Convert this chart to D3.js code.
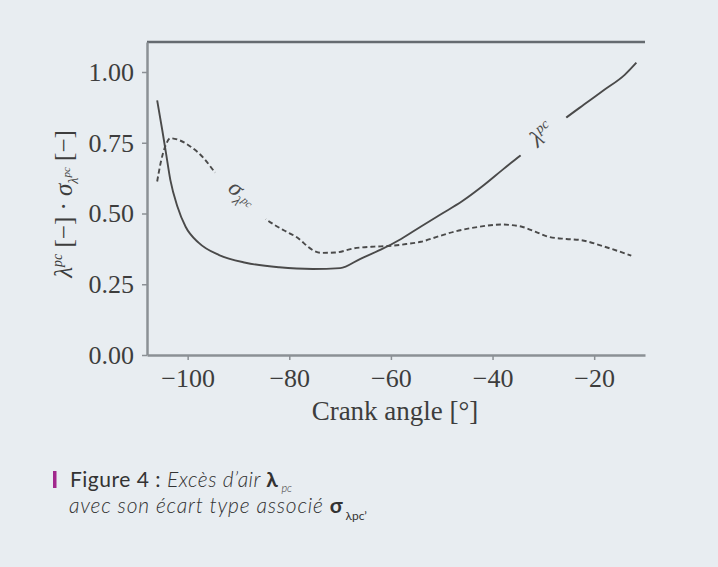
<!DOCTYPE html>
<html>
<head>
<meta charset="utf-8">
<script src="https://cdn.jsdelivr.net/npm/d3@7"></script>
<style>
  html, body { margin: 0; padding: 0; background: #e8edf1; }
  svg { display: block; }
</style>
</head>
<body>
<svg id="chart" width="718" height="567"></svg>
<script>
// Crank angle samples [°] and the two measured curves
const lambdaAngle = [-106, -105, -104.3, -103.4, -102, -100.4, -97.8, -93.8, -88.6, -82, -75.4, -70,
  -66, -62, -58, -54, -50, -46, -42, -38, -34, -30, -26, -22, -18, -14, -11.7];
const lambdaValue = [0.90, 0.795, 0.718, 0.618, 0.524, 0.453, 0.396, 0.353, 0.326, 0.31, 0.304, 0.307,
  0.34, 0.372, 0.41, 0.455, 0.499, 0.543, 0.596, 0.655, 0.713, 0.775, 0.832, 0.885, 0.937, 0.99, 1.033];

const sigmaAngle = [-106, -105.3, -104.3, -103.4, -101.5, -99.4, -96.8, -94.6, -90, -84.6, -81, -78.7,
  -75.1, -73.8, -71, -67.2, -63.3, -60.6, -57, -54.1, -50.5, -47.5, -43, -38.3, -34.4, -31.5, -29.1,
  -25.5, -22.6, -18, -12.7];
const sigmaValue = [0.613, 0.68, 0.742, 0.766, 0.758, 0.736, 0.695, 0.645, 0.57, 0.48, 0.44, 0.418,
  0.368, 0.361, 0.362, 0.377, 0.383, 0.385, 0.392, 0.40, 0.42, 0.436, 0.452, 0.461, 0.454, 0.435, 0.418,
  0.41, 0.406, 0.383, 0.351];

const xTickValues = [-100, -80, -60, -40, -20];
const yTickValues = [0, 0.25, 0.5, 0.75, 1.0];

const svg = d3.select("#chart");
const serif = "'Liberation Serif', 'Times New Roman', serif";
const sans = "Lato, 'Open Sans', sans-serif";
const ink = "#4a4a4a";

const x = d3.scaleLinear().domain([-108, -10]).range([147, 645]);
const y = d3.scaleLinear().domain([0, 1.106]).range([355, 42]);

const lambda = lambdaAngle.map((a, i) => ({ a, v: lambdaValue[i] }));
const sigma = sigmaAngle.map((a, i) => ({ a, v: sigmaValue[i] }));

// linear lookup along a series, used to seat the inline curve labels
function valueAt(series, a) {
  for (let i = 1; i < series.length; i++) {
    if (a <= series[i].a) {
      const p = series[i - 1], q = series[i];
      const t = (a - p.a) / (q.a - p.a);
      return p.v + t * (q.v - p.v);
    }
  }
  return series[series.length - 1].v;
}

// label geometry: gap between two angles on a curve
function gapOn(series, a0, a1) {
  const x0 = x(a0), y0 = y(valueAt(series, a0));
  const x1 = x(a1), y1 = y(valueAt(series, a1));
  return {
    cx: (x0 + x1) / 2, cy: (y0 + y1) / 2,
    len: Math.hypot(x1 - x0, y1 - y0),
    angle: Math.atan2(y1 - y0, x1 - x0) * 180 / Math.PI
  };
}
const sigmaGap = gapOn(sigma, -94.6, -84.6);
const lambdaGap = gapOn(lambda, -34.5, -25.5);

// masks that open the curves where their labels sit
const defs = svg.append("defs");
function makeMask(id, gap) {
  const m = defs.append("mask").attr("id", id).attr("maskUnits", "userSpaceOnUse")
    .attr("x", 0).attr("y", 0).attr("width", 718).attr("height", 567);
  m.append("rect").attr("width", 718).attr("height", 567).attr("fill", "white");
  m.append("rect")
    .attr("x", -gap.len / 2).attr("y", -14).attr("width", gap.len).attr("height", 28)
    .attr("fill", "black")
    .attr("transform", `translate(${gap.cx},${gap.cy}) rotate(${gap.angle})`);
}
makeMask("sigmaGap", sigmaGap);
makeMask("lambdaGap", lambdaGap);

// frame: top rule
svg.append("line")
  .attr("x1", x(-108)).attr("x2", x(-10))
  .attr("y1", y(1.106)).attr("y2", y(1.106))
  .attr("stroke", "#656b70").attr("stroke-width", 2.5);

// axes
const yAxis = d3.axisLeft(y).tickValues(yTickValues).tickFormat(d3.format(".2f"))
  .tickSize(5).tickSizeOuter(0).tickPadding(8);
const xAxis = d3.axisBottom(x).tickValues(xTickValues).tickFormat(d3.format("d"))
  .tickSize(5).tickSizeOuter(0).tickPadding(9);

const gy = svg.append("g").attr("transform", `translate(${x(-108)},0)`).call(yAxis);
const gx = svg.append("g").attr("transform", `translate(0,${y(0)})`).call(xAxis);

[gx, gy].forEach(g => {
  g.select(".domain").attr("stroke", "#8b9095").attr("stroke-width", 2.5);
  g.selectAll(".tick line").attr("stroke", "#8b9095").attr("stroke-width", 1.5);
  g.selectAll(".tick text").attr("fill", "#3d3d3d")
    .style("font-family", serif).style("font-size", "26px");
});

// curves
const line = d3.line().x(d => x(d.a)).y(d => y(d.v)).curve(d3.curveMonotoneX);

svg.append("path").datum(lambda)
  .attr("d", line).attr("fill", "none")
  .attr("stroke", ink).attr("stroke-width", 1.9)
  .attr("mask", "url(#lambdaGap)");

svg.append("path").datum(sigma)
  .attr("d", line).attr("fill", "none")
  .attr("stroke", ink).attr("stroke-width", 1.9)
  .attr("stroke-dasharray", "5,3")
  .attr("mask", "url(#sigmaGap)");

// inline curve labels
const sl = svg.append("text")
  .attr("transform", `translate(${sigmaGap.cx},${sigmaGap.cy}) rotate(${sigmaGap.angle})`)
  .attr("text-anchor", "middle").attr("fill", ink)
  .style("font-family", serif).attr("dy", "0.3em");
sl.append("tspan").style("font-size", "24px").attr("font-style", "italic").text("σ");
sl.append("tspan").style("font-size", "14px").attr("font-style", "italic").attr("dy", 6).text("λ");
sl.append("tspan").style("font-size", "11px").attr("font-style", "italic").attr("dy", -7).text("pc");

const ll = svg.append("text")
  .attr("transform", `translate(${lambdaGap.cx},${lambdaGap.cy}) rotate(${lambdaGap.angle})`)
  .attr("text-anchor", "middle").attr("fill", ink)
  .style("font-family", serif).attr("dy", "0.35em");
ll.append("tspan").style("font-size", "24px").attr("font-style", "italic").text("λ");
ll.append("tspan").style("font-size", "14px").attr("font-style", "italic").attr("dy", -10).text("pc");

// axis titles
const yt = svg.append("text")
  .attr("transform", "translate(72,204) rotate(-90)")
  .attr("text-anchor", "middle").attr("fill", "#3d3d3d")
  .style("font-family", serif).style("font-size", "25px");
yt.append("tspan").attr("font-style", "italic").text("λ");
yt.append("tspan").style("font-size", "14px").attr("font-style", "italic").attr("dy", -10).text("pc");
yt.append("tspan").attr("dy", 10).text(" [−] · ");
yt.append("tspan").attr("font-style", "italic").text("σ");
yt.append("tspan").style("font-size", "14px").attr("font-style", "italic").attr("dy", 6).text("λ");
yt.append("tspan").style("font-size", "11px").attr("font-style", "italic").attr("dy", -8).text("pc");
yt.append("tspan").attr("dy", 2).text(" [−]");

svg.append("text")
  .attr("x", 395).attr("y", 420)
  .attr("text-anchor", "middle").attr("fill", "#3d3d3d")
  .style("font-family", serif).style("font-size", "27px")
  .text("Crank angle [°]");

// caption
svg.append("rect").attr("x", 53).attr("y", 471).attr("width", 3.5).attr("height", 17)
  .attr("fill", "#a1288d");

const c1 = svg.append("text").attr("x", 70).attr("y", 487).attr("fill", "#333")
  .style("font-family", sans).style("font-size", "21px").style("letter-spacing", "0.5px");
c1.append("tspan").text("Figure 4 : ");
c1.append("tspan").attr("font-style", "italic").attr("font-weight", 300).text("Excès d’air ");
c1.append("tspan").attr("font-weight", 700).text("λ");
c1.append("tspan").attr("font-style", "italic").attr("font-weight", 300)
  .style("font-size", "11px").style("letter-spacing", "0px").attr("dx", 3).attr("dy", 5).text("pc");

const c2 = svg.append("text").attr("x", 69).attr("y", 513).attr("fill", "#333")
  .style("font-family", sans).style("font-size", "21px").style("letter-spacing", "0.8px");
c2.append("tspan").attr("font-style", "italic").attr("font-weight", 300).text("avec son écart type associé ");
c2.append("tspan").attr("font-weight", 700).text("σ");
c2.append("tspan").style("font-size", "12px").style("letter-spacing", "0px").attr("dx", 2).attr("dy", 7).text("λpc’");
</script>
</body>
</html>
